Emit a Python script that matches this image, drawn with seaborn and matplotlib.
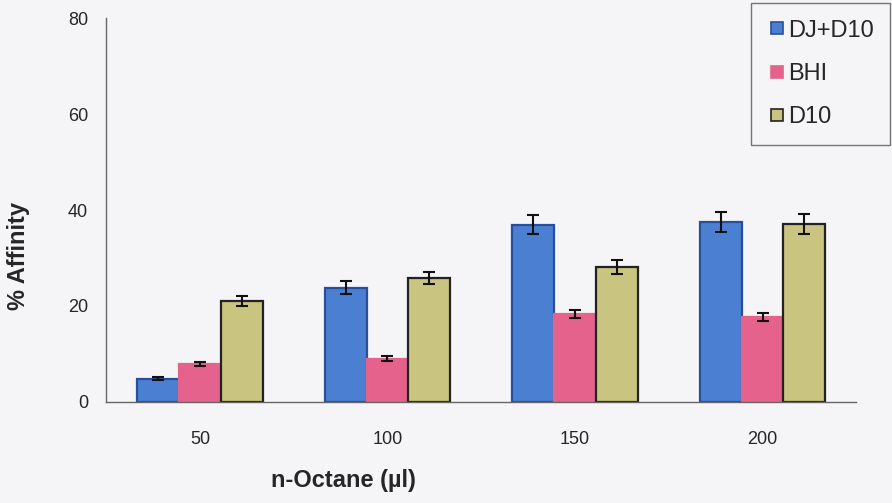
import pandas as pd
import seaborn as sns
import matplotlib.pyplot as plt
from matplotlib.lines import Line2D

# values
octane = ['50', '100', '150', '200']
media = ['DJ+D10', 'BHI', 'D10']
dj_d10 = [4.8, 23.8, 36.9, 37.5]
bhi = [7.9, 9.0, 18.3, 17.7]
d10 = [21.0, 25.8, 28.1, 37.1]
dj_d10_err = [0.3, 1.3, 2.0, 2.1]
bhi_err = [0.4, 0.5, 0.9, 0.8]
d10_err = [1.0, 1.3, 1.4, 2.0]

colors = ['#4B7FD1', '#E4628B', '#C9C47F']
edges = ['#2A4F9A', '#E4628B', '#222222']


def build_frame():
    rows = []
    for name, vals in zip(media, [dj_d10, bhi, d10]):
        for o, v in zip(octane, vals):
            rows.append({'octane': o, 'medium': name, 'affinity': v})
    return pd.DataFrame(rows)


def main():
    sns.set_style('white')
    plt.rcParams['font.family'] = ['Liberation Sans', 'DejaVu Sans']
    bg = '#F5F5F7'

    df = build_frame()
    fig = plt.figure(figsize=(8.92, 5.03), dpi=100, facecolor=bg)
    ax = fig.add_axes([0.119, 0.201, 0.841, 0.763])
    ax.set_facecolor(bg)

    sns.barplot(data=df, x='octane', y='affinity', hue='medium', order=octane,
                hue_order=media, palette=colors, saturation=1, width=0.67,
                errorbar=None, ax=ax, legend=False)

    errs = [dj_d10_err, bhi_err, d10_err]
    bar_groups = list(ax.containers)
    for i, cont in enumerate(bar_groups):
        for bar, err in zip(cont, errs[i]):
            bar.set_edgecolor(edges[i])
            bar.set_linewidth(1.6)
            cx = bar.get_x() + bar.get_width() / 2
            ax.errorbar(cx, bar.get_height(), yerr=err, fmt='none',
                        ecolor='#111111', elinewidth=1.5, capsize=4.5, capthick=1.5)

    ax.set_xlim(-0.5, 3.5)
    ax.set_ylim(0, 80)
    ax.set_yticks([0, 20, 40, 60, 80])
    ax.set_xticks([0.5, 1.5, 2.5, 3.5], minor=True)
    ax.tick_params(axis='x', which='major', length=0, pad=21, labelsize=13)
    ax.tick_params(axis='x', which='minor', length=5, color='#666666', direction='out')
    ax.tick_params(axis='y', length=5, color='#666666', direction='out', labelsize=13, pad=8)
    for side in ['top', 'right']:
        ax.spines[side].set_visible(False)
    for side in ['left', 'bottom']:
        ax.spines[side].set_color('#666666')
        ax.spines[side].set_linewidth(1.0)

    ax.set_xlabel('n-Octane (µl)', fontsize=17, fontweight='bold')
    ax.set_ylabel('% Affinity', fontsize=17, fontweight='bold')
    ax.xaxis.set_label_coords(0.316, -0.175)
    ax.yaxis.set_label_coords(-0.102, 0.38)

    handles = [Line2D([], [], marker='s', linestyle='none', markersize=9,
                      markerfacecolor=c, markeredgecolor=e, markeredgewidth=1.2)
               for c, e in zip(colors, edges)]
    leg = fig.legend(handles, media, loc='upper right', bbox_to_anchor=(0.998, 0.994),
                     fontsize=17, frameon=True, fancybox=False, labelspacing=0.9,
                     handletextpad=0.05, handlelength=0.8, borderpad=0.7,
                     borderaxespad=0)
    leg.get_frame().set_edgecolor('#555555')
    leg.get_frame().set_facecolor(bg)
    leg.get_frame().set_linewidth(1.0)

    fig.savefig('out.png', dpi=100, facecolor=bg)


if __name__ == "__main__":
    main()
